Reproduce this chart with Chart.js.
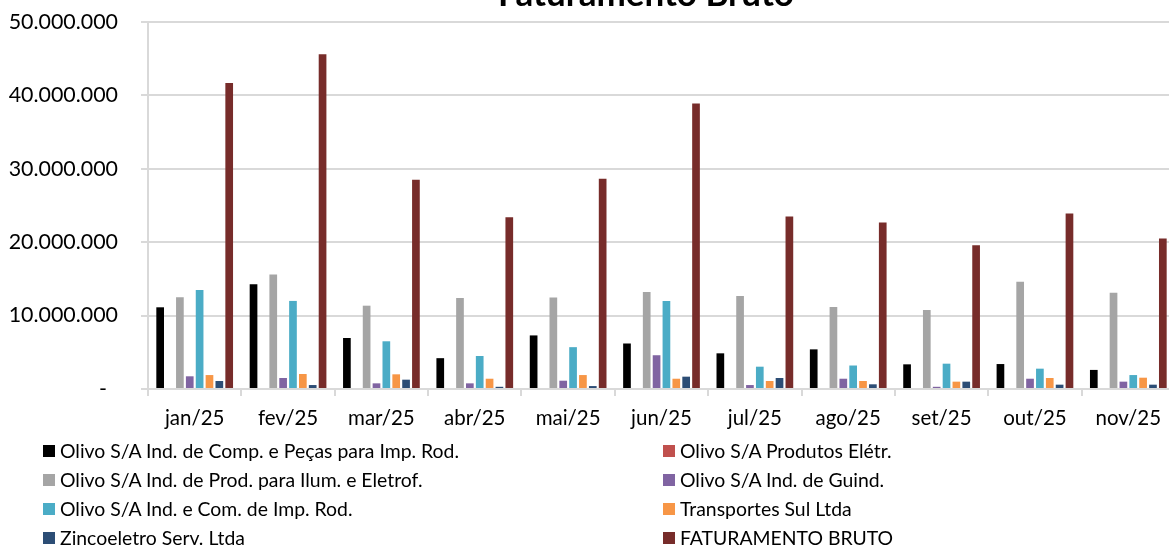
<!DOCTYPE html>
<html lang="pt">
  <head>
    <meta charset="UTF-8" />
    <title>Faturamento Bruto</title>
    <style>
      * {
        margin: 0;
        padding: 0;
        box-sizing: border-box;
      }
      body {
        width: 1169px;
        height: 547px;
        overflow: hidden;
        background: #ffffff;
        position: relative;
        font-family: "Lato", "Noto Sans", sans-serif;
      }
      .wrap {
        position: absolute;
        left: 0;
        top: 0;
        width: 1180px;
        height: 547px;
      }
      #legend {
        position: absolute;
        left: 0;
        top: 436px;
        width: 1169px;
      }
      .item {
        position: absolute;
        height: 29px;
        line-height: 29px;
        font-size: 19.4px;
        color: #000;
        white-space: nowrap;
      }
      .item span.box {
        position: absolute;
        left: 0;
        top: 9px;
        width: 12px;
        height: 12px;
      }
      .item span.txt {
        position: absolute;
        left: 17px;
      }
    </style>
  </head>
  <body>
    <div class="wrap"><canvas id="chart"></canvas></div>
    <div id="legend"></div>

    <script src="https://cdn.jsdelivr.net/npm/chart.js"></script>
    <script>
      const months = ["jan/25", "fev/25", "mar/25", "abr/25", "mai/25", "jun/25",
                      "jul/25", "ago/25", "set/25", "out/25", "nov/25"];

      const compPecas = [11130000, 14260000, 6950000, 4200000, 7300000, 6200000,
                         4860000, 5400000, 3360000, 3400000, 2600000];
      const prodEletr = [0, 0, 0, 0, 0, 0, 0, 0, 0, 0, 0];
      const prodIlum = [12500000, 15600000, 11350000, 12400000, 12450000, 13200000,
                        12670000, 11170000, 10760000, 14600000, 13100000];
      const guind = [1730000, 1500000, 770000, 770000, 1130000, 4600000,
                     540000, 1400000, 300000, 1400000, 1000000];
      const comImpRod = [13500000, 12000000, 6500000, 4500000, 5700000, 12000000,
                         3040000, 3200000, 3450000, 2770000, 1900000];
      const transpSul = [1900000, 2040000, 2000000, 1400000, 1900000, 1400000,
                         1090000, 1090000, 1000000, 1500000, 1540000];
      const zincoeletro = [1090000, 540000, 1270000, 300000, 400000, 1680000,
                           1500000, 640000, 1000000, 590000, 590000];
      const fatBruto = [41700000, 45600000, 28500000, 23400000, 28650000, 38900000,
                        23500000, 22700000, 19600000, 23900000, 20500000];

      const yTicks = [0, 10000000, 20000000, 30000000, 40000000, 50000000];

      const series = [
        { label: "Olivo S/A Ind. de Comp. e Peças para Imp. Rod.", data: compPecas, color: "#000000" },
        { label: "Olivo S/A Produtos Elétr.", data: prodEletr, color: "#C0504D" },
        { label: "Olivo S/A Ind. de Prod. para Ilum. e Eletrof.", data: prodIlum, color: "#A5A5A5" },
        { label: "Olivo S/A Ind. de Guind.", data: guind, color: "#8064A2" },
        { label: "Olivo S/A Ind. e Com. de Imp. Rod.", data: comImpRod, color: "#4BACC6" },
        { label: "Transportes Sul Ltda", data: transpSul, color: "#F79646" },
        { label: "Zincoeletro Serv. Ltda", data: zincoeletro, color: "#2C4D75" },
        { label: "FATURAMENTO BRUTO", data: fatBruto, color: "#772C2A" },
      ];

      const font = "Lato";

      // title sits mostly above the top edge, like in the picture
      const topTitle = {
        id: "topTitle",
        afterDraw(chart) {
          const ctx = chart.ctx;
          ctx.save();
          ctx.font = "bold 35px " + font;
          ctx.fillStyle = "#000";
          ctx.textAlign = "center";
          ctx.textBaseline = "alphabetic";
          ctx.fillText("Faturamento Bruto", 646, 6);
          ctx.restore();
        },
      };

      function fmt(v) {
        if (v === 0) return "-  ";
        return v.toString().replace(/\B(?=(\d{3})+(?!\d))/g, ".");
      }

      const chart = new Chart(document.getElementById("chart"), {
        type: "bar",
        data: {
          labels: months,
          datasets: series.map((s) => ({
            label: s.label,
            data: s.data,
            backgroundColor: s.color,
            borderWidth: 0,
            categoryPercentage: 0.845,
            barPercentage: 0.78,
          })),
        },
        options: {
          responsive: true,
          maintainAspectRatio: false,
          animation: false,
          layout: { padding: { top: 22, right: 5, bottom: 0, left: 0 } },
          plugins: {
            legend: { display: false },
            title: { display: false },
            tooltip: { enabled: false },
          },
          scales: {
            x: {
              offset: true,
              grid: {
                offset: true,
                drawOnChartArea: false,
                drawTicks: true,
                tickLength: 7,
                color: "#D9D9D9",
                lineWidth: 2,
              },
              border: { color: "#D9D9D9", width: 2 },
              ticks: {
                color: "#000",
                padding: 10,
                maxRotation: 0,
                autoSkip: false,
                font: { family: font, size: 20.5 },
              },
              afterFit(scale) {
                scale.height = 547 - 389;
              },
            },
            y: {
              min: 0,
              max: 50000000,
              afterBuildTicks(scale) {
                scale.ticks = yTicks.map((v) => ({ value: v }));
              },
              grid: {
                color: "#D9D9D9",
                lineWidth: 2,
                tickLength: 7,
              },
              border: { color: "#D9D9D9", width: 2 },
              ticks: {
                color: "#000",
                padding: 23,
                font: { family: font, size: 21.4 },
                callback: (v) => fmt(v),
              },
              afterFit(scale) {
                scale.width = 148;
                // tick padding should not push the plot area down
                scale.paddingTop = 0;
                scale.paddingBottom = 0;
              },
            },
          },
        },
        plugins: [topTitle],
      });

      // legend in two columns built from the datasets
      const legend = document.getElementById("legend");
      const colX = [43, 663];
      chart.data.datasets.forEach((ds, i) => {
        const div = document.createElement("div");
        div.className = "item";
        div.style.left = colX[i % 2] + "px";
        div.style.top = Math.floor(i / 2) * 29 + "px";
        const box = document.createElement("span");
        box.className = "box";
        box.style.background = ds.backgroundColor;
        const txt = document.createElement("span");
        txt.className = "txt";
        txt.textContent = ds.label;
        div.appendChild(box);
        div.appendChild(txt);
        legend.appendChild(div);
      });
    </script>
  </body>
</html>
